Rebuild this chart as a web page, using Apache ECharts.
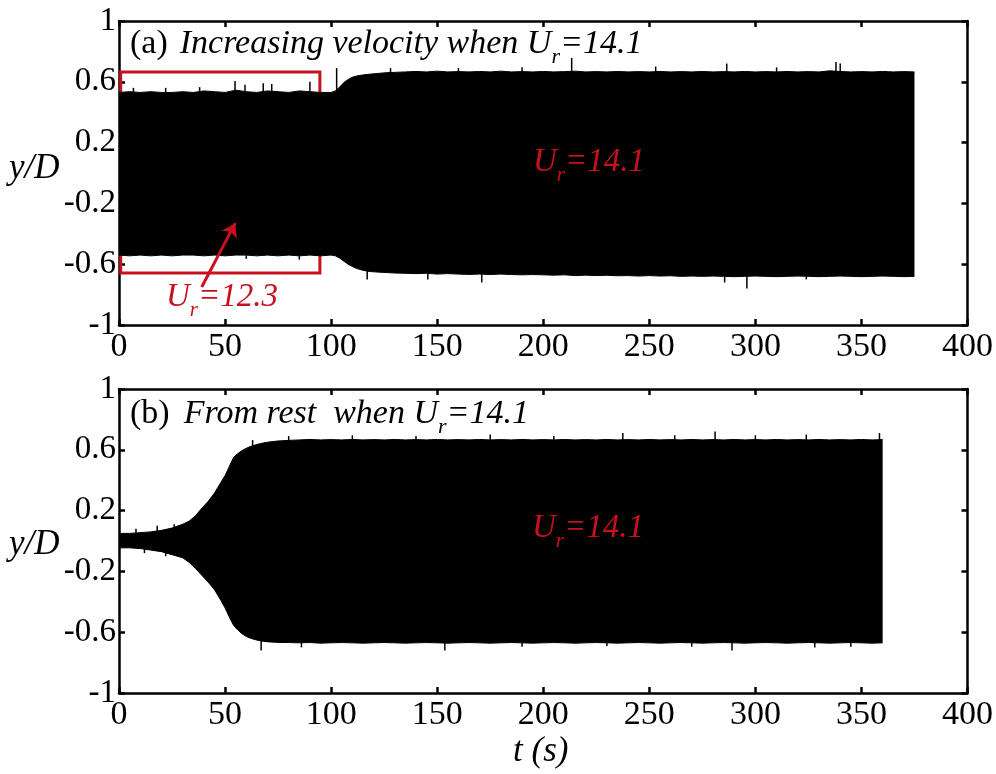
<!DOCTYPE html>
<html><head><meta charset="utf-8">
<script src="https://cdn.jsdelivr.net/npm/echarts@6/dist/echarts.min.js"></script>
<style>html,body{margin:0;padding:0;background:#fff}#c{width:996px;height:774px}</style>
</head><body><div id="c"></div>
<script>
// ---------- data ----------
// x ticks / y ticks
const xTicks = [0, 50, 100, 150, 200, 250, 300, 350, 400];
const yTicks = [-1, -0.6, -0.2, 0.2, 0.6, 1];

// Panel (a): envelope of y/D vs t
const tA = [0,5,10,15,20,25,30,35,40,45,50,55,60,65,70,75,80,85,90,95,100,
  102,104,106,108,110,112,
  115,118,122,126,130,
  135,140,145,150,155,160,165,170,175,180,185,190,195,200,205,210,215,220,225,230,235,240,245,250,255,260,265,270,275,280,285,290,295,300,305,310,315,320,325,330,335,340,345,350,355,360,365,370,375];
const upA = [0.53,0.535,0.53,0.535,0.53,0.53,0.535,0.53,0.54,0.535,0.53,0.545,0.535,0.53,0.54,0.535,0.53,0.54,0.535,0.53,0.53,
  0.54,0.565,0.595,0.615,0.63,0.638,
  0.645,0.65,0.655,0.66,0.662,
  0.665,0.668,0.665,0.67,0.665,0.667,0.665,0.668,0.665,0.67,0.665,0.667,0.665,0.668,0.665,0.667,0.67,0.665,0.667,0.665,0.668,0.665,0.667,0.665,0.668,0.665,0.667,0.665,0.668,0.665,0.667,0.665,0.668,0.665,0.667,0.665,0.668,0.665,0.667,0.665,0.672,0.668,0.665,0.667,0.665,0.668,0.665,0.667,0.665];
const loA = [-0.54,-0.545,-0.54,-0.545,-0.54,-0.545,-0.54,-0.54,-0.545,-0.54,-0.545,-0.54,-0.54,-0.545,-0.54,-0.545,-0.54,-0.545,-0.54,-0.545,-0.54,
  -0.545,-0.56,-0.58,-0.6,-0.615,-0.628,
  -0.64,-0.648,-0.652,-0.655,-0.658,
  -0.66,-0.662,-0.66,-0.665,-0.662,-0.665,-0.667,-0.665,-0.668,-0.665,-0.668,-0.67,-0.668,
  -0.67,-0.672,-0.67,-0.675,-0.672,-0.675,-0.673,-0.676,-0.675,-0.678,-0.675,-0.678,-0.676,-0.68,-0.678,-0.68,-0.678,-0.68,-0.682,-0.68,-0.678,-0.68,-0.682,-0.68,-0.678,-0.68,-0.682,-0.68,-0.678,-0.68,-0.682,-0.68,-0.678,-0.68,-0.682,-0.68];
// isolated peaks sticking out of the envelope in (a)
const spikeTA = [6.8, 22, 38, 54.7, 59.4, 68, 72, 90, 102.6, 128, 160, 190, 213.4, 253, 286.5, 310, 338, 340, 117, 145.6, 171, 285.5, 296, 324, 60, 85];
const spikeVA = [0.56, 0.56, 0.565, 0.605, 0.58, 0.59, 0.585, 0.6, 0.69, 0.69, 0.69, 0.695, 0.757, 0.7, 0.72, 0.695, 0.73, 0.72, -0.7, -0.7, -0.72, -0.72, -0.76, -0.7, -0.565, -0.57];

// Panel (b)
const tB = [0,5,10,15,20,25,30,33,36,39,42,45,48,50,52,54,56,58,60,62,65,68,71,75,
  80,85,90,95,100,105,110,115,120,125,130,135,140,145,150,155,160,165,170,175,180,185,190,195,200,205,210,215,220,225,230,235,240,245,250,255,260,265,270,275,280,285,290,295,300,305,310,315,320,325,330,335,340,345,350,355,360];
const upB = [0.05,0.05,0.055,0.06,0.07,0.085,0.11,0.13,0.165,0.215,0.26,0.315,0.385,0.43,0.49,0.55,0.575,0.595,0.61,0.622,0.635,0.645,0.652,0.658,
  0.662,0.665,0.668,0.665,0.667,0.665,0.668,0.665,0.667,0.665,0.668,0.665,0.667,0.665,0.668,0.665,0.667,0.665,0.668,0.665,0.667,0.665,0.668,0.665,0.667,0.665,0.668,0.665,0.667,0.665,0.668,0.665,0.667,0.665,0.668,0.665,0.667,0.665,0.668,0.665,0.667,0.665,0.668,0.665,0.667,0.665,0.668,0.665,0.667,0.665,0.668,0.665,0.667,0.665,0.668,0.665,0.667];
const loB = [-0.045,-0.045,-0.05,-0.06,-0.07,-0.09,-0.11,-0.14,-0.18,-0.225,-0.27,-0.32,-0.39,-0.44,-0.5,-0.555,-0.585,-0.61,-0.628,-0.64,-0.652,-0.66,-0.664,-0.667,
  -0.668,-0.67,-0.668,-0.672,-0.67,-0.668,-0.67,-0.672,-0.67,-0.668,-0.67,-0.672,-0.67,-0.668,-0.67,-0.672,-0.67,-0.668,-0.67,-0.672,-0.67,-0.668,-0.67,-0.672,-0.67,-0.668,-0.67,-0.672,-0.67,-0.668,-0.67,-0.672,-0.67,-0.668,-0.67,-0.672,-0.67,-0.668,-0.67,-0.672,-0.67,-0.668,-0.67,-0.672,-0.67,-0.668,-0.67,-0.672,-0.67,-0.668,-0.67,-0.672,-0.67,-0.668,-0.67,-0.672,-0.67];
const spikeTB = [8, 18, 26, 63, 80, 110, 140, 175, 205, 237.5, 262, 281, 300, 324, 358.5, 12, 22, 67, 86, 153.6, 190, 230, 270, 289, 328, 345];
const spikeVB = [0.08, 0.1, 0.11, 0.664, 0.69, 0.695, 0.69, 0.7, 0.69, 0.71, 0.695, 0.72, 0.695, 0.7, 0.71, -0.08, -0.1, -0.72, -0.7, -0.72, -0.695, -0.69, -0.695, -0.72, -0.7, -0.695];

// Annotation: red box [t0, t1, yTop, yBottom] and arrow [tFrom, yFrom, tTo, yTo]
const boxA = [0.8, 94.7, 0.665, -0.658];
const arrowA = [39, -0.75, 54.8, -0.33];

// ---------- chart ----------
const RED = '#c8101e';
const SERIF = '"Liberation Serif", "Times New Roman", serif';
const zip = (t, v) => t.map((x, i) => [x, v[i]]);

const grids = [
  {left: 119, right: 28, top: 21, height: 304},
  {left: 119, right: 28, top: 389, height: 304}
];
const axisLineStyle = {color: '#000', width: 2.5};
function xAx(g, pos, showLabel) {
  return {type: 'value', gridIndex: g, position: pos, min: xTicks[0], max: xTicks[xTicks.length - 1],
    interval: xTicks[1] - xTicks[0],
    axisLine: {show: true, onZero: false, lineStyle: axisLineStyle},
    axisTick: {show: true, inside: true, length: 6, lineStyle: {color: '#000', width: 2.5}},
    axisLabel: {show: showLabel, fontFamily: SERIF, fontSize: 34, color: '#000', margin: 5},
    splitLine: {show: false}};
}
function yAx(g, pos, showLabel) {
  return {type: 'value', gridIndex: g, position: pos, min: yTicks[0], max: yTicks[yTicks.length - 1],
    interval: yTicks[1] - yTicks[0],
    axisLine: {show: true, onZero: false, lineStyle: axisLineStyle},
    axisTick: {show: true, inside: true, length: 6, lineStyle: {color: '#000', width: 2.5}},
    axisLabel: {show: showLabel, fontFamily: SERIF, fontSize: 33, color: '#000', margin: 3,
      formatter: v => String(Math.round(v * 10) / 10)},
    splitLine: {show: false}};
}
function env(xi, data) {
  return {type: 'line', xAxisIndex: xi, yAxisIndex: xi, data: data, symbol: 'none', showSymbol: false,
    lineStyle: {color: '#000', width: 1}, areaStyle: {color: '#000', opacity: 1}, z: 2, silent: true};
}
function spikes(xi, data) {
  return {type: 'bar', xAxisIndex: xi, yAxisIndex: xi, data: data, barWidth: 1.5, silent: true,
    itemStyle: {color: '#000'}, z: 1};
}

// text helpers (measured layout for subscripts)
const mctx = document.createElement('canvas').getContext('2d');
function fnt(size, italic) { return (italic ? 'italic ' : '') + size + 'px ' + SERIF; }
function tw(t, size, italic) { mctx.font = fnt(size, italic); return mctx.measureText(t).width; }
function line(x, base, parts, color) {
  const els = []; let cx = x;
  parts.forEach(([t, size, italic, dy]) => {
    if (typeof t === 'number') { cx += t; return; }
    els.push({type: 'text', x: cx, y: base + (dy || 0) - 0.34 * size,
      style: {text: t, font: fnt(size, italic), fill: color, align: 'left', verticalAlign: 'middle'}, z: 20});
    cx += tw(t, size, italic);
  });
  return els;
}
const graphics = [].concat(
  line(130, 56, [['(a)', 34, false], [12, 0], ['Increasing velocity when U', 34, true], ['r', 22, true, 9], ['=14.1', 34, true]], '#000'),
  line(130, 426, [['(b)', 34, false], [14, 0], ['From rest\u00a0\u00a0when U', 34, true], ['r', 22, true, 9], ['=14.1', 34, true]], '#000'),
  line(533, 174, [['U', 33, true], ['r', 21, true, 9], ['=14.1', 33, true]], RED),
  line(532, 540, [['U', 33, true], ['r', 21, true, 9], ['=14.1', 33, true]], RED),
  line(166, 309, [['U', 33, true], ['r', 21, true, 9], ['=12.3', 33, true]], RED),
  line(9, 181, [['y/D', 35, true]], '#000'),
  line(9, 557, [['y/D', 35, true]], '#000'),
  line(513, 764, [['t (s)', 35, true]], '#000')
);

const chart = echarts.init(document.getElementById('c'), null, {renderer: 'canvas'});
chart.setOption({
  animation: false,
  backgroundColor: '#fff',
  grid: grids,
  xAxis: [xAx(0, 'bottom', true), xAx(0, 'top', false), xAx(1, 'bottom', true), xAx(1, 'top', false)],
  yAxis: [yAx(0, 'left', true), yAx(0, 'right', false), yAx(1, 'left', true), yAx(1, 'right', false)],
  series: [
    spikes(0, zip(spikeTA, spikeVA)),
    env(0, zip(tA, upA)), env(0, zip(tA, loA)),
    spikes(2, zip(spikeTB, spikeVB)),
    env(2, zip(tB, upB)), env(2, zip(tB, loB)),
    {type: 'line', xAxisIndex: 0, yAxisIndex: 0, data: [], z: 10, silent: true,
      markArea: {silent: true, itemStyle: {color: 'rgba(0,0,0,0)', borderColor: RED, borderWidth: 3},
        data: [[{coord: [boxA[0], boxA[2]]}, {coord: [boxA[1], boxA[3]]}]]},
      markLine: {silent: true, symbol: ['none', 'arrow'], symbolSize: 13,
        lineStyle: {color: RED, width: 3, type: 'solid'}, label: {show: false},
        data: [[{coord: [arrowA[0], arrowA[1]]}, {coord: [arrowA[2], arrowA[3]]}]]}}
  ],
  graphic: graphics
});
</script></body></html>
